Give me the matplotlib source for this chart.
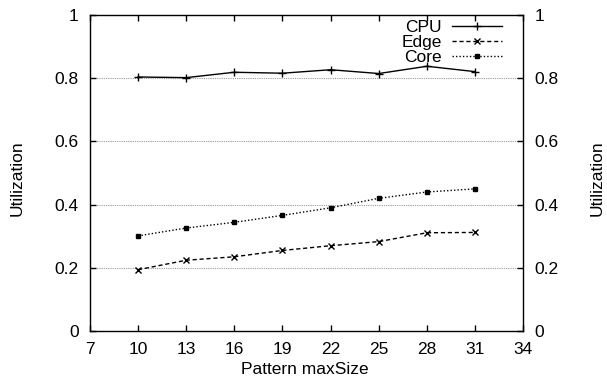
import matplotlib
matplotlib.use("Agg")
import matplotlib.pyplot as plt

# data
max_size = [10, 13, 16, 19, 22, 25, 28, 31]
cpu = [0.804, 0.802, 0.819, 0.816, 0.827, 0.815, 0.838, 0.821]
edge = [0.194, 0.224, 0.235, 0.255, 0.270, 0.283, 0.311, 0.312]
core = [0.301, 0.326, 0.344, 0.366, 0.390, 0.420, 0.440, 0.450]
x_ticks = [7, 10, 13, 16, 19, 22, 25, 28, 31, 34]
y_ticks = [0, 0.2, 0.4, 0.6, 0.8, 1]
y_labels = ['0', '0.2', '0.4', '0.6', '0.8', '1']

plt.rcParams['font.family'] = ['Liberation Sans', 'DejaVu Sans']
plt.rcParams['font.size'] = 12.5

fig = plt.figure(figsize=(6.07, 3.77), dpi=100)
ax = fig.add_axes([0.148, 0.122, 0.714, 0.838])

ax.plot(max_size, cpu, color='black', lw=1, marker='+', ms=6, mew=1, label='CPU')
ax.plot(max_size, edge, color='black', lw=1, ls=(0, (3, 2)), marker='x', ms=4, mew=1, label='Edge')
ax.plot(max_size, core, color='black', lw=1, ls=(0, (1, 1.5)), marker='s', ms=3, label='Core')

ax.set_xlim(7, 34)
ax.set_ylim(0, 1)
ax.set_xticks(x_ticks)
ax.set_yticks(y_ticks)
ax.set_yticklabels(y_labels)
ax.tick_params(direction='in', length=4, width=1, top=True, right=True,
               labelright=True, pad=8)

# gnuplot-style grid at the inner y ticks
for y in y_ticks[1:-1]:
    ax.axhline(y, color='#999999', lw=0.8, ls=(0, (1, 1)), zorder=0)

for s in ax.spines.values():
    s.set_linewidth(1)

fig.text(305 / 607, 1 - 370 / 377, 'Pattern maxSize', ha='center', va='center')
fig.text(17 / 607, 1 - 178 / 377, 'Utilization', rotation=90, ha='center', va='center')
fig.text(597 / 607, 1 - 178 / 377, 'Utilization', rotation=90, ha='center', va='center')

leg = ax.legend(loc='upper right', bbox_to_anchor=(0.974, 1.018), frameon=False,
                markerfirst=False, handlelength=2.85, handletextpad=0.6,
                labelspacing=0.0, borderaxespad=0.2, fontsize=12.5)
for t in leg.get_texts():
    t.set_ha('right')

fig.savefig('out.png', dpi=100)
